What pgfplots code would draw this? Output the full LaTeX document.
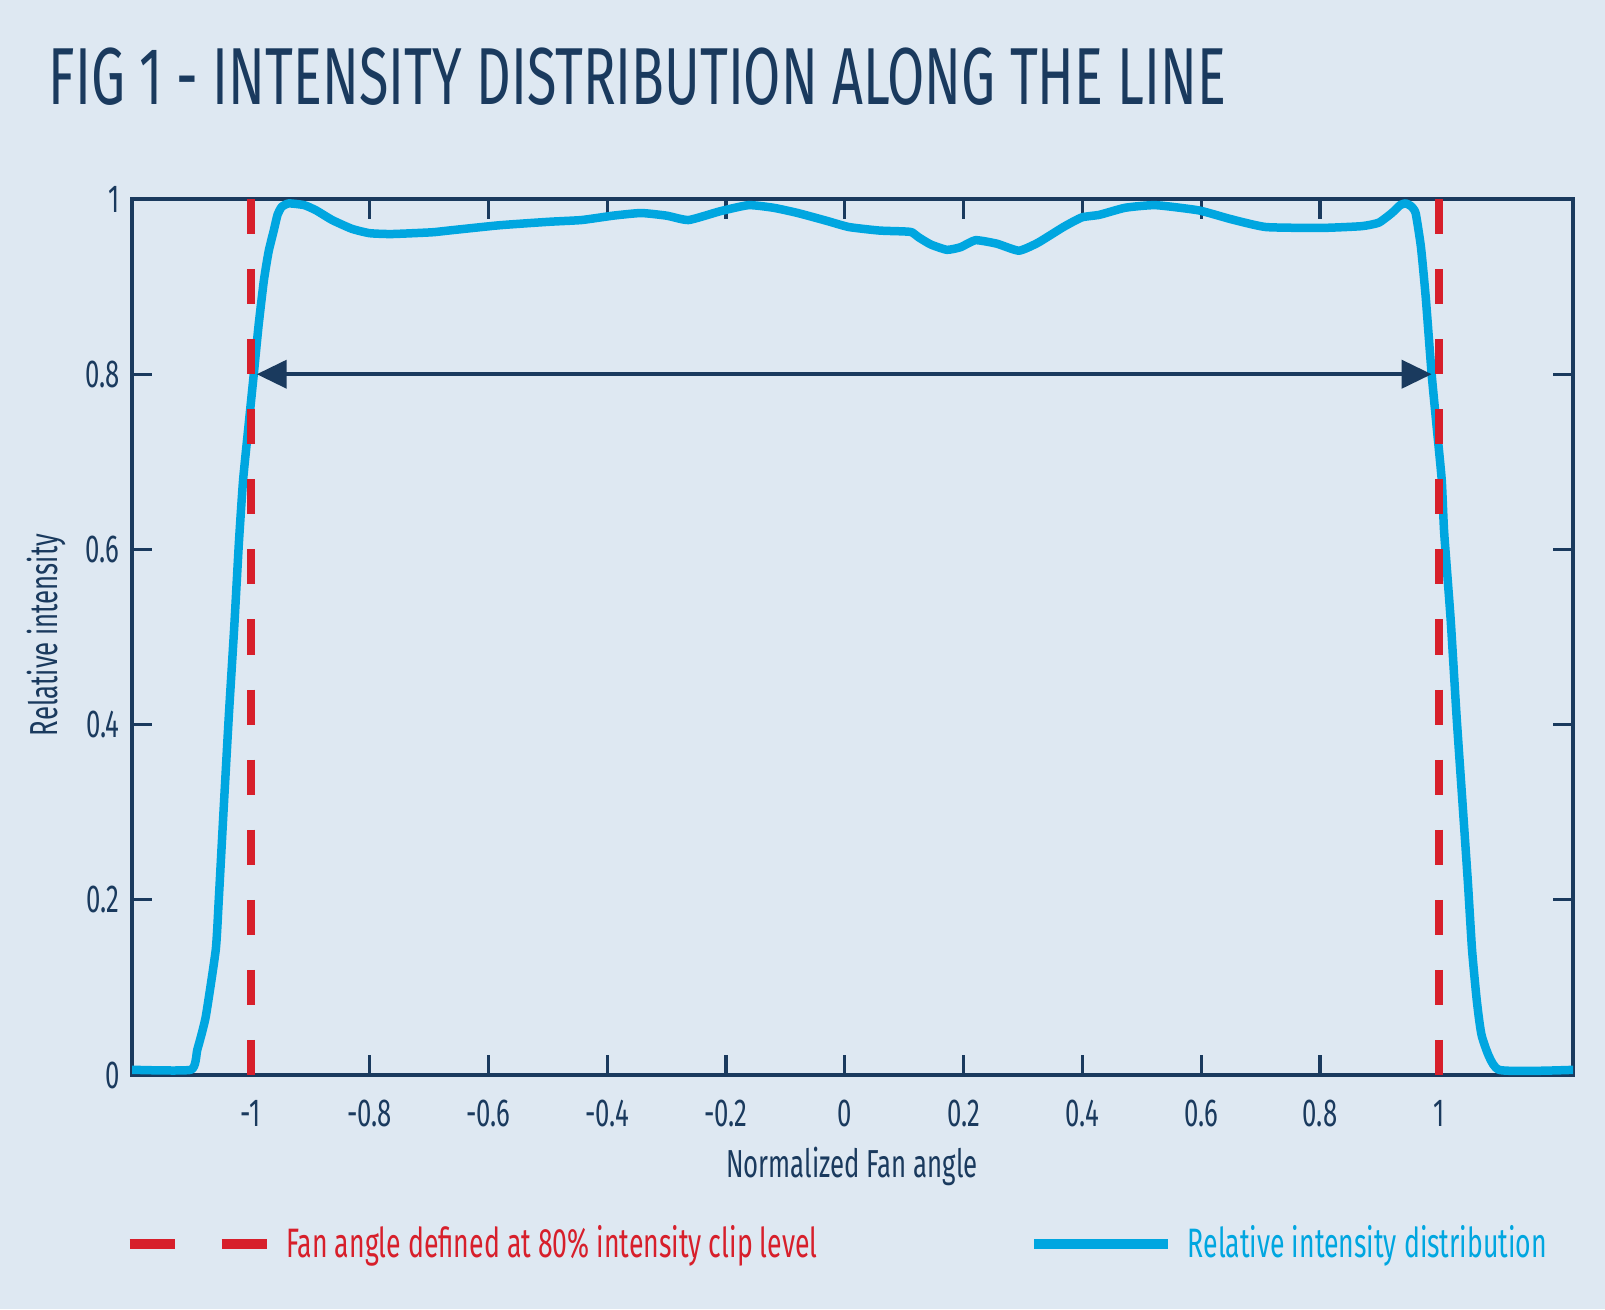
\documentclass[border=0pt]{standalone}
\usepackage{fontspec}
\usepackage{pgfplots}
\pgfplotsset{compat=1.18}
\usetikzlibrary{arrows.meta}
\newfontfamily\titlefont[FakeStretch=0.667]{Fira Sans}
\newfontfamily\labfont[FakeStretch=0.66]{Fira Sans}
\newfontfamily\legfont[FakeStretch=0.648]{Fira Sans}
\definecolor{bg}{RGB}{222,232,242}
\definecolor{navy}{RGB}{26,58,94}
\definecolor{lred}{RGB}{215,31,43}
\definecolor{lblue}{RGB}{0,166,224}
\begin{document}
\begin{tikzpicture}
\fill[bg] (0,0) rectangle (16.05cm,13.09cm);
\useasboundingbox (0,0) rectangle (16.05cm,13.09cm);
\node[anchor=base west, inner sep=0pt, text=navy, font=\titlefont\fontsize{23}{26}\selectfont] at (0.48cm,12.05cm) {FIG 1 - INTENSITY DISTRIBUTION ALONG THE LINE};
\begin{axis}[
  at={(1.32cm,2.34cm)}, anchor=south west,
  scale only axis, width=14.41cm, height=8.76cm,
  xmin=-1.2, xmax=1.226, ymin=0, ymax=1,
  xtick={-1,-0.8,-0.6,-0.4,-0.2,0,0.2,0.4,0.6,0.8,1},
  xticklabels={-1,-0.8,-0.6,-0.4,-0.2,0,0.2,0.4,0.6,0.8,1},
  ytick={0,0.2,0.4,0.6,0.8,1},
  yticklabels={0,0.2,0.4,0.6,0.8,1},
  tick align=inside, major tick length=2mm,
  axis line style={navy, line width=0.33mm},
  every tick/.style={navy, line width=0.33mm},
  tick label style={font=\labfont\fontsize{11.1}{13}\selectfont, text=navy},
  xticklabel style={yshift=-1.3mm},
  legend style={at={(axis description cs:-0.0055,-0.193)}, anchor=west, draw=none, fill=none,
    inner sep=0pt, column sep=1.5mm, nodes={inner sep=0pt},
    font=\legfont\fontsize{11.7}{14}\selectfont,
    /tikz/every even column/.append style={column sep=21.2mm}},
  legend columns=2,
]
\addplot[forget plot, lblue, line width=0.85mm, line join=round, smooth, tension=0.3] coordinates {
(-1.2,0.006) (-1.101,0.006) (-1.09,0.029) (-1.076,0.066) (-1.059,0.143) (-1.054,0.199)
(-1.046,0.30) (-1.037,0.41) (-1.028,0.51) (-1.02,0.608) (-1.013,0.679) (-1.004,0.74)
(-0.995,0.80) (-0.987,0.855) (-0.978,0.907) (-0.97,0.94) (-0.961,0.965) (-0.955,0.982)
(-0.948,0.991) (-0.936,0.995) (-0.91,0.993) (-0.89,0.987) (-0.863,0.976) (-0.83,0.966)
(-0.8,0.961) (-0.763,0.960) (-0.695,0.962) (-0.667,0.964) (-0.582,0.970) (-0.498,0.974)
(-0.443,0.976) (-0.39,0.981) (-0.343,0.984) (-0.30,0.981) (-0.263,0.976) (-0.21,0.986)
(-0.162,0.993) (-0.12,0.990) (-0.079,0.984) (-0.03,0.975) (0.007,0.968) (0.058,0.964)
(0.1,0.963) (0.113,0.962) (0.125,0.956) (0.145,0.948) (0.172,0.942) (0.195,0.945)
(0.22,0.953) (0.256,0.949) (0.293,0.941) (0.325,0.950) (0.368,0.968) (0.399,0.979)
(0.429,0.982) (0.472,0.990) (0.523,0.993) (0.596,0.987) (0.65,0.977) (0.709,0.968)
(0.803,0.967) (0.87,0.969) (0.899,0.973) (0.921,0.984) (0.935,0.993) (0.944,0.995)
(0.953,0.992) (0.961,0.984) (0.970,0.945) (0.978,0.888) (0.988,0.80) (0.997,0.736)
(1.005,0.679) (1.009,0.62) (1.02,0.52) (1.030,0.409) (1.04,0.31) (1.049,0.22)
(1.056,0.143) (1.064,0.085) (1.073,0.043) (1.101,0.006) (1.23,0.006)
};
\addplot[forget plot, lred, line width=0.85mm, dash pattern=on 3.504mm off 3.504mm] coordinates {(-1,1) (-1,0)};
\addplot[forget plot, lred, line width=0.85mm, dash pattern=on 3.504mm off 3.504mm] coordinates {(1,1) (1,0)};
\addplot[forget plot, navy, line width=0.4mm, {Triangle[length=3mm,width=2.8mm]}-{Triangle[length=3mm,width=2.8mm]}] coordinates {(-0.99,0.8) (0.988,0.8)};
\addlegendimage{legend image code/.code={\draw[lred, line width=0.95mm, dash pattern=on 4.5mm off 4.7mm] (0mm,0mm) -- (13.7mm,0mm);}}
\addlegendentry[text=lred]{Fan angle defined at 80\% intensity clip level}
\addlegendimage{legend image code/.code={\draw[lblue, line width=0.95mm] (0mm,0mm) -- (13.4mm,0mm);}}
\addlegendentry[text=lblue]{Relative intensity distribution}
\end{axis}
\node[text=navy, font=\labfont\fontsize{11.1}{13}\selectfont, anchor=base, inner sep=0pt] at (8.52cm,1.32cm) {Normalized Fan angle};
\node[text=navy, font=\labfont\fontsize{11.1}{13}\selectfont, anchor=base, inner sep=0pt, rotate=90] at (0.57cm,6.74cm) {Relative intensity};
\end{tikzpicture}
\end{document}
